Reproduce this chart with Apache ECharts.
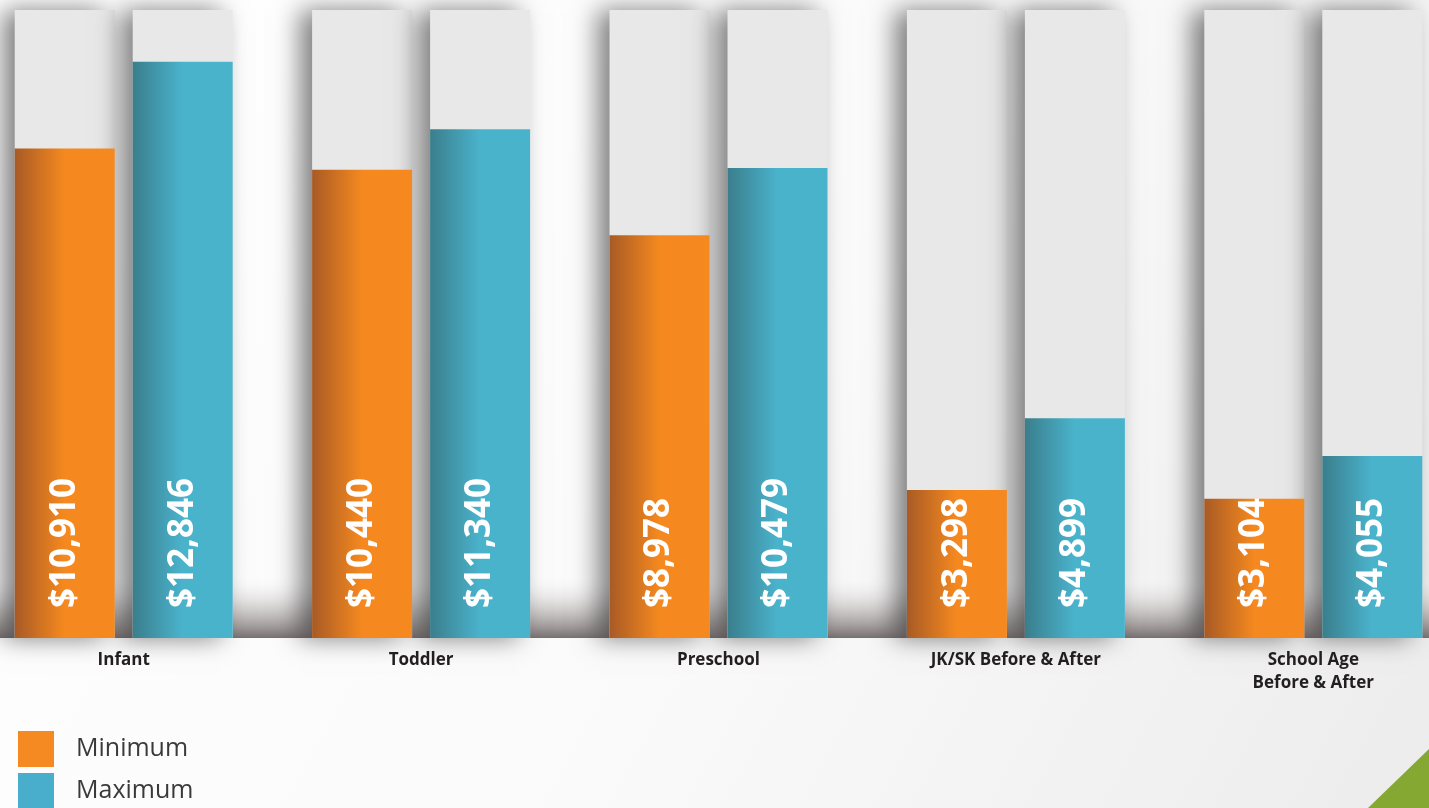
<!DOCTYPE html>
<html>
<head>
<meta charset="utf-8">
<script src="https://cdn.jsdelivr.net/npm/echarts@6/dist/echarts.min.js"></script>
<style>
html,body{margin:0;padding:0;width:1429px;height:808px;overflow:hidden;background:#fff;}
#chart{width:1429px;height:808px;}
</style>
</head>
<body>
<div id="chart"></div>
<script>
const categories = ['Infant', 'Toddler', 'Preschool', 'JK/SK Before & After', 'School Age\nBefore & After'];
const minimumValues = [10910, 10440, 8978, 3298, 3104];
const maximumValues = [12846, 11340, 10479, 4899, 4055];
const seriesNames = ['Minimum', 'Maximum'];
const axisMax = 14000;

const chart = echarts.init(document.getElementById('chart'));

function grad(dark, light) {
  return new echarts.graphic.LinearGradient(0, 0, 1, 0, [
    {offset: 0, color: dark},
    {offset: 0.5, color: light},
    {offset: 1, color: light}
  ]);
}

const labelCfg = {
  show: true,
  position: 'insideBottom',
  rotate: 90,
  align: 'left',
  verticalAlign: 'middle',
  distance: 30,
  color: '#ffffff',
  fontFamily: 'Open Sans',
  fontWeight: 'bold',
  fontSize: 35,
  formatter: p => '$' + p.value.toLocaleString('en-US')
};

const bgStyle = {
  color: '#e8e8e8',
  shadowColor: 'rgba(0,0,0,0.5)',
  shadowBlur: 24,
  shadowOffsetX: -12,
  shadowOffsetY: 0
};

const legendText = {fontFamily: 'Open Sans', fontSize: 25, color: '#3a3a3a', padding: [0, 0, 0, 17]};

chart.setOption({
  backgroundColor: 'transparent',
  animation: false,
  graphic: [
    {
      type: 'rect', z: -100, silent: true,
      shape: {x: 0, y: 0, width: 1429, height: 808},
      style: {fill: new echarts.graphic.LinearGradient(0, 0, 1, 1, [
        {offset: 0, color: '#ffffff'}, {offset: 0.55, color: '#fafafa'}, {offset: 1, color: '#ececec'}
      ])}
    },
    {
      type: 'rect', z: -50, silent: true,
      shape: {x: 0, y: 574, width: 1429, height: 64},
      style: {fill: new echarts.graphic.LinearGradient(0, 0, 0, 1, [
        {offset: 0, color: 'rgba(255,255,255,0)'},
        {offset: 0.45, color: 'rgba(205,200,200,0.6)'},
        {offset: 1, color: 'rgba(120,112,112,1)'}
      ])}
    },
    {
      type: 'polygon', z: 100, silent: true,
      shape: {points: [[1368, 808], [1429, 749], [1429, 808]]},
      style: {fill: '#85a832'}
    }
  ],
  grid: {left: -25, right: -33, top: 10, bottom: 170, containLabel: false, outerBoundsMode: 'none'},
  legend: [
    {
      left: 18, top: 731, padding: 0, itemWidth: 36, itemHeight: 36, icon: 'rect',
      textStyle: legendText,
      data: [{name: seriesNames[0], itemStyle: {color: '#f58a23'}}]
    },
    {
      left: 18, top: 773, padding: 0, itemWidth: 36, itemHeight: 35, icon: 'rect',
      textStyle: legendText,
      data: [{name: seriesNames[1], itemStyle: {color: '#48aecb'}}]
    }
  ],
  xAxis: {
    type: 'category',
    data: categories,
    axisLine: {show: false},
    axisTick: {show: false},
    axisLabel: {
      margin: 11,
      fontFamily: 'Open Sans',
      fontWeight: 'bold',
      fontSize: 17,
      lineHeight: 23,
      color: '#231f20',
      interval: 0
    }
  },
  yAxis: {
    type: 'value',
    min: 0,
    max: axisMax,
    show: false,
    splitLine: {show: false}
  },
  series: [
    {
      name: seriesNames[0],
      type: 'bar',
      data: minimumValues,
      barWidth: 100,
      barGap: '18%',
      showBackground: true,
      backgroundStyle: bgStyle,
      itemStyle: {color: grad('#a85a25', '#f5891f')},
      label: labelCfg
    },
    {
      name: seriesNames[1],
      type: 'bar',
      data: maximumValues,
      barWidth: 100,
      barGap: '18%',
      showBackground: true,
      backgroundStyle: bgStyle,
      itemStyle: {color: grad('#3a7e8c', '#4ab3cc')},
      label: labelCfg
    }
  ]
});
</script>
</body>
</html>
